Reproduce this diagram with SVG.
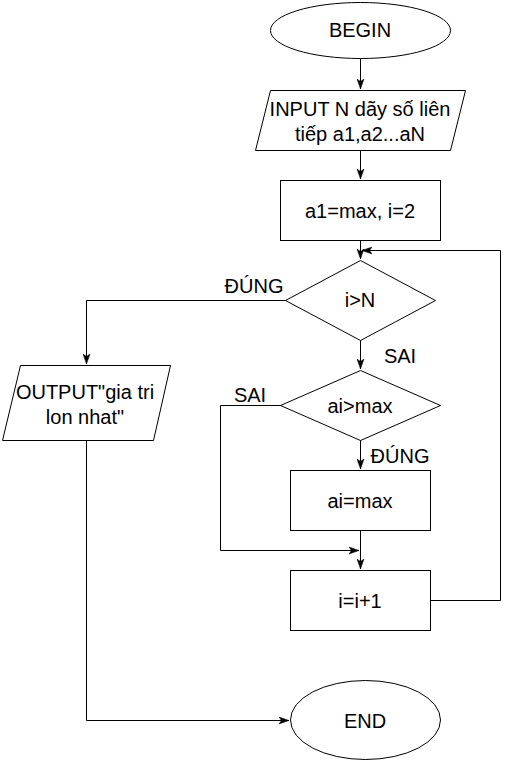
<svg xmlns="http://www.w3.org/2000/svg" width="509" height="761" viewBox="0 0 509 761">
<style>
.s{fill:#fff;stroke:#000;stroke-width:1}
.t{font-family:"Liberation Sans",Arial,sans-serif;font-size:20px;fill:#000;text-anchor:middle}
.e{fill:none;stroke:#000;stroke-width:1}
</style>
<defs>
<marker id="a" markerUnits="userSpaceOnUse" markerWidth="11" markerHeight="8" refX="10" refY="4" orient="auto">
<path d="M0,0.5 L10,4 L0,7.5 L2.5,4 Z" fill="#000" stroke="#000" stroke-width="0.5"/>
</marker>
</defs>
<rect width="509" height="761" fill="#fff"/>
<g id="connectors">
<path class="e" d="M360.5,58 V89" marker-end="url(#a)"/>
<path class="e" d="M360.5,150 V179" marker-end="url(#a)"/>
<path class="e" d="M360.5,240 V259" marker-end="url(#a)"/>
<path class="e" d="M430,600.5 H500.5 V250.5 H362" marker-end="url(#a)"/>
<path class="e" d="M286,300.5 H86.5 V364" marker-end="url(#a)"/>
<path class="e" d="M360.5,340 V369" marker-end="url(#a)"/>
<path class="e" d="M281,405.5 H220.5 V550.5 H359" marker-end="url(#a)"/>
<path class="e" d="M360.5,440 V469" marker-end="url(#a)"/>
<path class="e" d="M360.5,530 V569" marker-end="url(#a)"/>
<path class="e" d="M86.5,440 V720.5 H289" marker-end="url(#a)"/>
<text class="t" x="254" y="293">ĐÚNG</text>
<text class="t" x="400" y="363">SAI</text>
<text class="t" x="250" y="402">SAI</text>
<text class="t" x="400" y="463">ĐÚNG</text>
</g>
<g id="begin">
<ellipse class="s" cx="360.5" cy="30.5" rx="90" ry="28"/>
<text class="t" x="360" y="37">BEGIN</text>
</g>
<g id="input">
<polygon class="s" points="270.5,90.5 465.5,90.5 450.5,150.5 255.5,150.5"/>
<text class="t" x="360" y="116">INPUT N dãy số liên</text>
<text class="t" x="360" y="141">tiếp a1,a2...aN</text>
</g>
<g id="init">
<rect class="s" x="280.5" y="180.5" width="160" height="60"/>
<text class="t" x="360" y="218">a1=max, i=2</text>
</g>
<g id="cond1">
<polygon class="s" points="360.5,260.5 435.5,300.5 360.5,340.5 285.5,300.5"/>
<text class="t" x="360" y="307">i&gt;N</text>
</g>
<g id="output">
<polygon class="s" points="20.5,365.5 170.5,365.5 153.5,440.5 2.5,440.5"/>
<text class="t" x="85" y="399">OUTPUT"gia tri</text>
<text class="t" x="85" y="424">lon nhat"</text>
</g>
<g id="cond2">
<polygon class="s" points="360.5,370.5 440.5,405.5 360.5,440.5 280.5,405.5"/>
<text class="t" x="360" y="413">ai&gt;max</text>
</g>
<g id="assign">
<rect class="s" x="290.5" y="470.5" width="140" height="60"/>
<text class="t" x="360" y="508">ai=max</text>
</g>
<g id="inc">
<rect class="s" x="290.5" y="570.5" width="140" height="60"/>
<text class="t" x="360" y="608">i=i+1</text>
</g>
<g id="end">
<ellipse class="s" cx="365.5" cy="720" rx="75" ry="39.5"/>
<text class="t" x="365" y="728">END</text>
</g>
</svg>
